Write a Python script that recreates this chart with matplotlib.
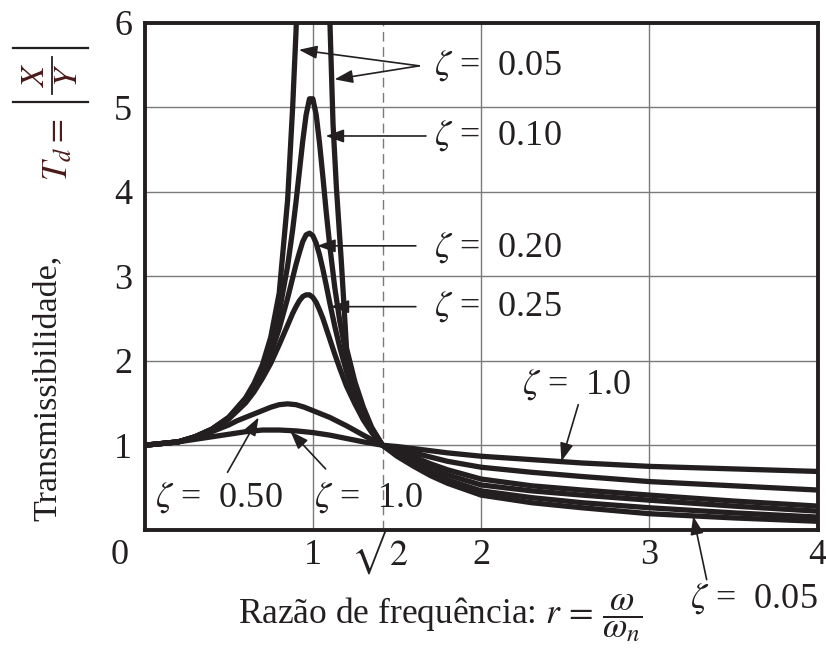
import numpy as np
import matplotlib.pyplot as plt
from matplotlib.lines import Line2D

plt.rcParams['font.family'] = ['Liberation Serif', 'DejaVu Serif']
plt.rcParams['mathtext.fontset'] = 'stix'

INK = '#231f20'
MAROON = '#4a1a1a'

# values (frequency ratio r -> transmissibility Td)
r_005 = [0.0, 0.2, 0.3, 0.4, 0.5, 0.6, 0.65, 0.7, 0.75, 0.8,
         0.85, 0.88, 0.9, 0.92, 0.95, 1.0, 1.05, 1.08, 1.1, 1.12,
         1.14, 1.17, 1.2, 1.25, 1.3, 1.35, 1.414,
         1.5, 1.6, 1.7, 1.8, 2.0, 2.3, 2.6, 3.0, 3.5, 4.0]
td_005 = [1.0, 1.04, 1.10, 1.19, 1.33, 1.56, 1.73, 1.95, 2.28, 2.80,
          3.9, 5.0, 5.9, 7.0, 9.0, 10.0, 9.0, 7.5, 6.1, 4.8,
          4.05, 3.15, 2.15, 1.75, 1.45, 1.21, 1.0,
          0.87, 0.75, 0.64, 0.55, 0.41, 0.32, 0.26, 0.19, 0.14, 0.10]

r_mid = [0.0, 0.2, 0.3, 0.4, 0.5, 0.6, 0.65, 0.7, 0.75, 0.8,
         0.85, 0.88, 0.9, 0.92, 0.94, 0.96, 0.98, 1.0, 1.02, 1.04,
         1.06, 1.08, 1.1, 1.13, 1.16, 1.2, 1.25, 1.3, 1.35, 1.414,
         1.5, 1.6, 1.7, 1.8, 2.0, 2.3, 2.6, 3.0, 3.5, 4.0]
td_010 = [1.0, 1.04, 1.10, 1.19, 1.33, 1.55, 1.70, 1.91, 2.19, 2.57,
          3.12, 3.55, 3.88, 4.24, 4.60, 4.91, 5.10, 5.10, 4.91, 4.57,
          4.17, 3.75, 3.37, 2.87, 2.47, 2.05, 1.68, 1.40, 1.20, 1.0,
          0.89, 0.78, 0.68, 0.59, 0.46, 0.38, 0.32, 0.26, 0.20, 0.15]
td_020 = [1.0, 1.04, 1.10, 1.19, 1.32, 1.53, 1.67, 1.85, 2.08, 2.38,
          2.74, 2.98, 3.14, 3.28, 3.41, 3.49, 3.51, 3.48, 3.39, 3.25,
          3.08, 2.89, 2.69, 2.41, 2.16, 1.87, 1.58, 1.35, 1.18, 1.0,
          0.91, 0.82, 0.73, 0.65, 0.53, 0.46, 0.41, 0.35, 0.28, 0.22]
td_025 = [1.0, 1.04, 1.10, 1.18, 1.31, 1.50, 1.63, 1.79, 1.97, 2.19,
          2.42, 2.56, 2.64, 2.71, 2.76, 2.78, 2.78, 2.75, 2.69, 2.60,
          2.50, 2.38, 2.26, 2.08, 1.91, 1.70, 1.49, 1.30, 1.15, 1.0,
          0.93, 0.86, 0.78, 0.71, 0.60, 0.52, 0.47, 0.41, 0.34, 0.28]

r_050 = [0.0, 0.2, 0.3, 0.4, 0.45, 0.5, 0.55, 0.6, 0.65, 0.7,
         0.75, 0.8, 0.85, 0.9, 0.95, 1.0, 1.1, 1.2, 1.3, 1.414,
         1.5, 1.6, 1.7, 1.8, 2.0, 2.3, 2.6, 3.0, 3.5, 4.0]
td_050 = [1.0, 1.04, 1.09, 1.16, 1.20, 1.24, 1.29, 1.33, 1.37, 1.41,
          1.45, 1.48, 1.49, 1.48, 1.45, 1.41, 1.33, 1.23, 1.12, 1.0,
          0.96, 0.91, 0.86, 0.81, 0.74, 0.68, 0.63, 0.57, 0.52, 0.47]

r_100 = [0.0, 0.2, 0.3, 0.4, 0.5, 0.6, 0.7, 0.8, 0.9, 1.0, 1.1, 1.2, 1.3, 1.414,
         1.5, 1.6, 1.7, 1.8, 2.0, 2.3, 2.6, 3.0, 3.5, 4.0]
td_100 = [1.0, 1.04, 1.07, 1.10, 1.13, 1.16, 1.18, 1.18, 1.17, 1.15, 1.12, 1.08, 1.04, 1.0,
          0.985, 0.96, 0.935, 0.91, 0.87, 0.83, 0.79, 0.75, 0.72, 0.69]

x_ticks = [1, np.sqrt(2), 2, 3, 4]
x_ticklabels = ['1', r'$\sqrt{2}$', '2', '3', '4']
y_ticks = [1, 2, 3, 4, 5, 6]

W, H = 826, 650


def fpos(x, y):
    # pixel position (from top left) -> figure fraction
    return x / W, 1 - y / H


fig, ax = plt.subplots(figsize=(W / 100, H / 100), dpi=100)
fig.subplots_adjust(left=0.175, right=0.99, bottom=0.185, top=0.965)

for r, td in [(r_005, td_005), (r_mid, td_010), (r_mid, td_020), (r_mid, td_025),
              (r_050, td_050), (r_100, td_100)]:
    ax.plot(r, td, color=INK, lw=3.8, solid_joinstyle='round', solid_capstyle='round', zorder=3)

ax.set_xlim(0, 4)
ax.set_ylim(0, 6)
ax.set_xticks(x_ticks)
ax.set_xticklabels(x_ticklabels)
ax.set_yticks(y_ticks)
ax.tick_params(length=0, labelsize=26, colors=INK)
ax.tick_params(axis='x', pad=25)
ax.tick_params(axis='y', pad=9)
plt.setp(ax.get_xticklabels(), va='baseline')
ax.grid(True, color='#7a7a7a', lw=1.0)
ax.xaxis.get_gridlines()[1].set_linestyle((0, (7, 4)))
for s in ax.spines.values():
    s.set_linewidth(2.8)
    s.set_color(INK)
    s.set_zorder(5)

# lone "0" in the lower left corner
ax.text(-0.147, -0.30, '0', fontsize=26, ha='center', va='center', color=INK, clip_on=False)

# y label: "Transmissibilidade,  Td = |X/Y|" written bottom to top
fig.text(*fpos(47, 388), 'Transmissibilidade,', rotation=90, ha='center', va='center',
         fontsize=24.5, color=INK)
fig.text(*fpos(59, 150), r'$T_d =$', rotation=90, ha='center', va='center',
         fontsize=25, color=MAROON)
fig.text(*fpos(36, 75), r'$X$', rotation=90, ha='center', va='center', fontsize=24, color=MAROON)
fig.text(*fpos(69, 75), r'$Y$', rotation=90, ha='center', va='center', fontsize=24, color=MAROON)
for (x0, y0), (x1, y1), lw in [((52, 57), (52, 94), 1.3),
                               ((13, 48), (88, 48), 1.6),
                               ((13, 102), (88, 102), 1.6)]:
    a, b = fpos(x0, y0)
    c, d = fpos(x1, y1)
    fig.add_artist(Line2D([a, c], [b, d], color=INK, lw=lw, transform=fig.transFigure))

fig.text(*fpos(440, 623), r'Razão de frequência: $r\, =\, \dfrac{\omega}{\omega_n}$',
         ha='center', va='baseline', fontsize=25.5, color=INK)

arrow = dict(arrowstyle='-|>,head_length=0.55,head_width=0.2', color=INK, lw=1.2,
             shrinkA=0, shrinkB=0, mutation_scale=20)
tsize = 26

ax.text(1.72, 5.49, r'$\zeta$ =  0.05', fontsize=tsize, va='center', color=INK)
ax.annotate('', xy=(0.917, 5.68), xytext=(1.632, 5.49), arrowprops=arrow)
ax.annotate('', xy=(1.129, 5.33), xytext=(1.632, 5.49), arrowprops=arrow)

ax.text(1.72, 4.66, r'$\zeta$ =  0.10', fontsize=tsize, va='center', color=INK)
ax.annotate('', xy=(1.076, 4.66), xytext=(1.672, 4.66), arrowprops=arrow)

ax.text(1.72, 3.34, r'$\zeta$ =  0.20', fontsize=tsize, va='center', color=INK)
ax.annotate('', xy=(1.026, 3.36), xytext=(1.612, 3.36), arrowprops=arrow)

ax.text(1.72, 2.64, r'$\zeta$ =  0.25', fontsize=tsize, va='center', color=INK)
ax.annotate('', xy=(1.106, 2.64), xytext=(1.612, 2.64), arrowprops=arrow)

ax.text(0.063, 0.38, r'$\zeta$ =  0.50', fontsize=tsize, va='center', color=INK)
ax.annotate('', xy=(0.678, 1.33), xytext=(0.493, 0.68), arrowprops=arrow)

ax.text(1.005, 0.38, r'$\zeta$ =  1.0', fontsize=tsize, va='center', color=INK)
ax.annotate('', xy=(0.867, 1.165), xytext=(1.076, 0.72), arrowprops=arrow)

ax.text(2.24, 1.72, r'$\zeta$ =  1.0', fontsize=tsize, va='center', color=INK)
ax.annotate('', xy=(2.477, 0.81), xytext=(2.577, 1.48), arrowprops=arrow)

ax.text(3.24, -0.81, r'$\zeta$ =  0.05', fontsize=tsize, va='center', color=INK, clip_on=False)
ax.annotate('', xy=(3.26, 0.16), xytext=(3.34, -0.59), arrowprops=arrow, annotation_clip=False)

fig.savefig('out.png', dpi=100)
